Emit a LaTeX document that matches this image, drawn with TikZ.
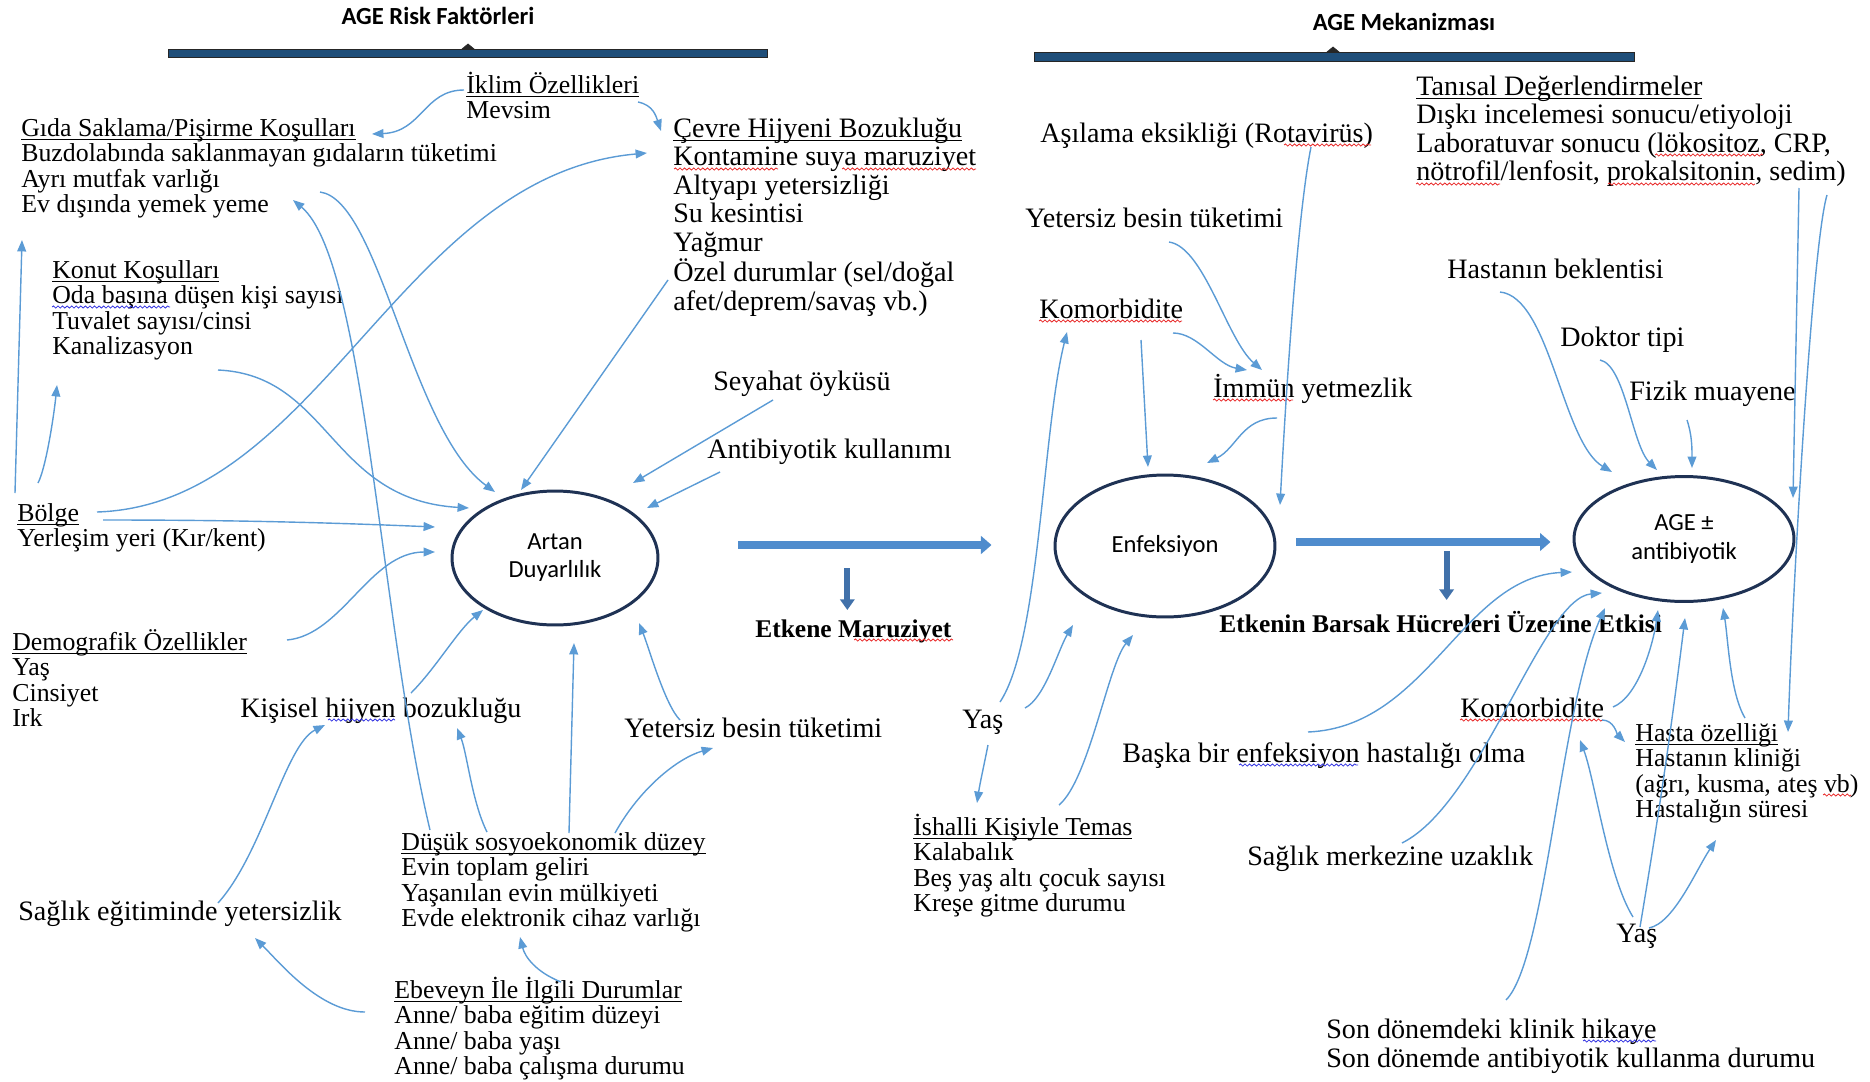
\documentclass[tikz,border=0pt]{standalone}
\usepackage{fontspec}
\setmainfont{Liberation Serif}
\newfontfamily\calib{Carlito}
\usetikzlibrary{arrows.meta,shapes.geometric,calc,decorations.pathmorphing}
\definecolor{LinkBlue}{RGB}{91,155,213}
\definecolor{FlowBlue}{RGB}{79,140,205}
\definecolor{DropBlue}{RGB}{65,113,170}
\definecolor{RingNavy}{RGB}{31,50,84}
\definecolor{BarNavy}{RGB}{31,78,121}
\definecolor{SpellRed}{RGB}{232,40,40}
\definecolor{SpellBlue}{RGB}{50,50,225}
\newcommand{\lnstr}{\rule{0pt}{13pt}}
\newsavebox{\ulbox}
\newcommand{\uln}[1]{\lnstr\sbox{\ulbox}{#1}\rlap{\rule[-2.4pt]{\wd\ulbox}{0.55pt}}\usebox{\ulbox}}

\begin{document}
\begin{tikzpicture}[
  x=0.02cm, y=-0.02cm,
  >={Triangle[length=6.5pt,width=5pt]},
  lbl/.style={anchor=north west, inner sep=0pt, align=left,
    font=\fontsize{14.7}{14.5}\selectfont, execute at begin node=\lnstr},
  big/.style={lbl, font=\fontsize{16}{16.2}\selectfont},
  bold/.style={lbl, font=\fontsize{14.5}{14.5}\selectfont\bfseries},
  title/.style={anchor=base, inner sep=0pt, font=\calib\bfseries\fontsize{14}{16}\selectfont},
  ring/.style={ellipse, draw=RingNavy, line width=1.7pt, align=center,
    font=\calib\fontsize{14}{16}\selectfont, inner sep=0pt},
  link/.style={->, draw=LinkBlue, line width=0.8pt},
  flow/.style={-{Triangle[length=6pt,width=10pt]}, draw=FlowBlue, line width=4.4pt},
  drop/.style={-{Triangle[length=6pt,width=8pt]}, draw=DropBlue, line width=3.4pt},
  wavy/.style={decorate, decoration={snake, amplitude=0.6pt, segment length=2.6pt}, line width=0.45pt},
  spellred/.style={wavy, draw=SpellRed},
  spellblue/.style={wavy, draw=SpellBlue}
]
\useasboundingbox (0,0) rectangle (1870,1082);

% Headings and bars
\node[title] (riskT) at (438,24) {AGE Risk Faktörleri};
\node[title] (mekT) at (1404,30) {AGE Mekanizması};
\filldraw[fill=BarNavy, draw=black!85, line width=0.5pt] (168,49) rectangle (767,57);
\filldraw[fill=black!85, draw=black!85] (462,49) -- (468,44) -- (474,49) -- cycle;
\filldraw[fill=BarNavy, draw=black!85, line width=0.5pt] (1034,52) rectangle (1634,61);
\filldraw[fill=black!85, draw=black!85] (1327,52) -- (1333,47) -- (1339,52) -- cycle;

% Central states
\node[ring, minimum width=4.12cm, minimum height=2.68cm] (artan) at (555,558) {Artan\\Duyarlılık};
\node[ring, minimum width=4.4cm, minimum height=2.84cm] (enf) at (1165,546) {Enfeksiyon};
\node[ring, minimum width=4.4cm, minimum height=2.5cm] (age) at (1684,539) {AGE ±\\antibiyotik};

% Risk factors
\node[lbl] (iklim) at (466,70) {\uln{İklim Özellikleri}\\Mevsim};
\node[lbl] (gida) at (21,113) {\uln{Gıda Saklama/Pişirme Koşulları}\\Buzdolabında saklanmayan gıdaların tüketimi\\Ayrı mutfak varlığı\\Ev dışında yemek yeme};
\node[big] (cevre) at (673,114) {\uln{Çevre Hijyeni Bozukluğu}\\Kontamine suya maruziyet\\Altyapı yetersizliği\\Su kesintisi\\Yağmur\\Özel durumlar (sel/doğal\\afet/deprem/savaş vb.)};
\node[lbl] (konut) at (52,255) {\uln{Konut Koşulları}\\Oda başına düşen kişi sayısı\\Tuvalet sayısı/cinsi\\Kanalizasyon};
\node[lbl] (bolge) at (17,498) {\uln{Bölge}\\Yerleşim yeri (Kır/kent)};
\node[lbl] (demog) at (12,627) {\uln{Demografik Özellikler}\\Yaş\\Cinsiyet\\Irk};
\node[big] (kisisel) at (240,694) {Kişisel hijyen bozukluğu};
\node[big] (sagedu) at (18,897) {Sağlık eğitiminde yetersizlik};
\node[lbl] (dusuk) at (401,827) {\uln{Düşük sosyoekonomik düzey}\\Evin toplam geliri\\Yaşanılan evin mülkiyeti\\Evde elektronik cihaz varlığı};
\node[lbl] (ebeveyn) at (394,975) {\uln{Ebeveyn İle İlgili Durumlar}\\Anne/ baba eğitim düzeyi\\Anne/ baba yaşı\\Anne/ baba çalışma durumu};
\node[big] (yetL) at (624,714) {Yetersiz besin tüketimi};
\node[big] (seyahat) at (713,367) {Seyahat öyküsü};
\node[big] (antib) at (707,435) {Antibiyotik kullanımı};
\node[bold] (etkene) at (755,614) {Etkene Maruziyet};

% Mechanism factors
\node[big] (asilama) at (1040,119) {Aşılama eksikliği (Rotavirüs)};
\node[big] (yetR) at (1025,204) {Yetersiz besin tüketimi};
\node[big] (komorb) at (1039,295) {Komorbidite};
\node[big] (immun) at (1213,374) {İmmün yetmezlik};
\node[big] (tanisal) at (1416,72) {\uln{Tanısal Değerlendirmeler}\\Dışkı incelemesi sonucu/etiyoloji\\Laboratuvar sonucu (lökositoz, CRP,\\nötrofil/lenfosit, prokalsitonin, sedim)};
\node[big] (hastanin) at (1447,255) {Hastanın beklentisi};
\node[big] (doktor) at (1560,323) {Doktor tipi};
\node[big] (fizik) at (1629,377) {Fizik muayene};
\node[bold] (etkenin) at (1219,609) {Etkenin Barsak Hücreleri Üzerine Etkisi};
\node[big] (yasM) at (962,705) {Yaş};
\node[lbl] (ishalli) at (913,812) {\uln{İshalli Kişiyle Temas}\\Kalabalık\\Beş yaş altı çocuk sayısı\\Kreşe gitme durumu};
\node[big] (baska) at (1122,739) {Başka bir enfeksiyon hastalığı olma};
\node[big] (komorbR) at (1460,694) {Komorbidite};
\node[lbl] (hasta) at (1635,718) {\uln{Hasta özelliği}\\Hastanın kliniği\\(ağrı, kusma, ateş vb)\\Hastalığın süresi};
\node[big] (sagmerk) at (1247,842) {Sağlık merkezine uzaklık};
\node[big] (yasR) at (1616,919) {Yaş};
\node[big, font=\fontsize{16}{16.4}\selectfont] (son) at (1326,1015) {\lnstr Son dönemdeki klinik hikaye\\Son dönemde antibiyotik kullanma durumu};

% spell-check marks under words
\draw[spellred] ([shift={(1,55)}]cevre.north west) -- ([shift={(105,55)}]cevre.north west);
\draw[spellred] ([shift={(169,55)}]cevre.north west) -- ([shift={(303,55)}]cevre.north west);
\draw[spellred] ([shift={(99,26)}]etkene.north west) -- ([shift={(198,26)}]etkene.north west);
\draw[spellred] ([shift={(244,26)}]asilama.north west) -- ([shift={(331,26)}]asilama.north west);
\draw[spellred] ([shift={(0,26)}]komorb.north west) -- ([shift={(143,26)}]komorb.north west);
\draw[spellred] ([shift={(0,26)}]immun.north west) -- ([shift={(80,26)}]immun.north west);
\draw[spellred] ([shift={(239,83)}]tanisal.north west) -- ([shift={(347,83)}]tanisal.north west);
\draw[spellred] ([shift={(0,112)}]tanisal.north west) -- ([shift={(84,112)}]tanisal.north west);
\draw[spellred] ([shift={(192,112)}]tanisal.north west) -- ([shift={(339,112)}]tanisal.north west);
\draw[spellred] ([shift={(0,26)}]komorbR.north west) -- ([shift={(143,26)}]komorbR.north west);
\draw[spellred] ([shift={(188,77)}]hasta.north west) -- ([shift={(216,77)}]hasta.north west);
\draw[spellblue] ([shift={(0,52)}]konut.north west) -- ([shift={(118,52)}]konut.north west);
\draw[spellblue] ([shift={(88,26)}]kisisel.north west) -- ([shift={(155,26)}]kisisel.north west);
\draw[spellblue] ([shift={(117,26)}]baska.north west) -- ([shift={(236,26)}]baska.north west);
\draw[spellblue] ([shift={(257,26)}]son.north west) -- ([shift={(330,26)}]son.north west);

% --- main flow ---
\draw[flow] ([shift={(79,-13)}]artan.east) -- ([shift={(-62,-1)}]enf.west);
\draw[drop] ([shift={(-6,-46)}]etkene.north) -- ([shift={(-6,-4)}]etkene.north);
\draw[flow] ([shift={(20,-4)}]enf.east) -- ([shift={(-22,3)}]age.west);
\draw[drop] ([shift={(6,-58)}]etkenin.north) -- ([shift={(6,-9)}]etkenin.north);

% --- risk factor edges ---
\draw[link] ([shift={(-2,20)}]iklim.north west) .. controls +(-40,0) and +(50,-2) .. ([shift={(351,21)}]gida.north west);
\draw[link] ([shift={(172,32)}]iklim.north west) .. controls +(15,3) and +(-5,-15) .. ([shift={(-12,17)}]cevre.north west);
\draw[link] ([shift={(-2,-5)}]bolge.north west) -- ([shift={(1,127)}]gida.north west);
\draw[link] ([shift={(21,-15)}]bolge.north west) .. controls +(8,-15) and +(-3,30) .. ([shift={(5,130)}]konut.north west);
\draw[link] ([shift={(80,14)}]bolge.north west) .. controls +(223,-7) and +(-247,22) .. ([shift={(-26,39)}]cevre.north west);
\draw[link] ([shift={(86,22)}]bolge.north west) .. controls +(120,0) and +(-120,-5) .. ([shift={(-120,-31)}]artan.center);
\draw[link] ([shift={(166,115)}]konut.north west) .. controls +(112,5) and +(-139,-8) .. ([shift={(-86,-50)}]artan.center);
\draw[link] ([shift={(299,79)}]gida.north west) .. controls +(60,8) and +(-85,-62) .. ([shift={(-60,-66)}]artan.center);
\draw[link] ([shift={(-5,166)}]cevre.north west) -- ([shift={(-34,-68)}]artan.center);
\draw[link] ([shift={(29,3)}]dusuk.north west) .. controls +(-50,-210) and +(72,60) .. ([shift={(272,87)}]gida.north west);
\draw[link] ([shift={(86,5)}]dusuk.north west) .. controls +(-15,-30) and +(10,25) .. ([shift={(217,34)}]kisisel.north west);
\draw[link] ([shift={(168,6)}]dusuk.north west) -- ([shift={(19,85)}]artan.center);
\draw[link] ([shift={(214,6)}]dusuk.north west) .. controls +(25,-45) and +(-35,10) .. ([shift={(89,34)}]yetL.north west);
\draw[link] ([shift={(171,-1)}]kisisel.north west) .. controls +(25,-25) and +(-25,20) .. ([shift={(-72,52)}]artan.center);
\draw[link] ([shift={(200,6)}]sagedu.north west) .. controls +(45,-50) and +(-40,20) .. ([shift={(85,31)}]kisisel.north west);
\draw[link] ([shift={(-29,37)}]ebeveyn.north west) .. controls +(-45,0) and +(25,25) .. ([shift={(237,41)}]sagedu.north west);
\draw[link] ([shift={(167,7)}]ebeveyn.north west) .. controls +(-25,-10) and +(5,20) .. ([shift={(119,110)}]dusuk.north west);
\draw[link] ([shift={(275,13)}]demog.north west) .. controls +(55,-5) and +(-65,0) .. ([shift={(-120,-6)}]artan.center);
\draw[link] ([shift={(56,6)}]yetL.north west) .. controls +(-15,-15) and +(10,25) .. ([shift={(84,65)}]artan.center);
\draw[link] ([shift={(60,33)}]seyahat.north west) -- ([shift={(78,-75)}]artan.center);
\draw[link] ([shift={(13,37)}]antib.north west) -- ([shift={(92,-50)}]artan.center);

% --- mechanism edges ---
\draw[link] ([shift={(271,28)}]asilama.north west) .. controls +(-12,60) and +(8,-150) .. ([shift={(115,-41)}]enf.center);
\draw[link] ([shift={(144,38)}]yetR.north west) .. controls +(35,5) and +(-35,-30) .. ([shift={(49,-4)}]immun.north west);
\draw[link] ([shift={(134,38)}]komorb.north west) .. controls +(25,0) and +(-30,-5) .. ([shift={(34,-4)}]immun.north west);
\draw[link] ([shift={(102,45)}]komorb.north west) -- ([shift={(-17,-79)}]enf.center);
\draw[link] ([shift={(64,44)}]immun.north west) .. controls +(-35,0) and +(30,-15) .. ([shift={(42,-83)}]enf.center);
\draw[link] ([shift={(38,-3)}]yasM.north west) .. controls +(40,-60) and +(-25,100) .. ([shift={(28,37)}]komorb.north west);
\draw[link] ([shift={(63,3)}]yasM.north west) .. controls +(20,-10) and +(-15,25) .. ([shift={(-92,79)}]enf.center);
\draw[link] ([shift={(26,40)}]yasM.north west) .. controls +(-5,25) and +(3,-20) .. ([shift={(64,-9)}]ishalli.north west);
\draw[link] ([shift={(146,-7)}]ishalli.north west) .. controls +(30,-25) and +(-25,30) .. ([shift={(-32,89)}]enf.center);

% --- AGE edges ---
\draw[link] ([shift={(186,-7)}]baska.north west) .. controls +(120,-5) and +(-110,5) .. ([shift={(-112,33)}]age.center);
\draw[link] ([shift={(155,1)}]sagmerk.north west) .. controls +(80,-40) and +(-60,5) .. ([shift={(-82,54)}]age.center);
\draw[link] ([shift={(180,-15)}]son.north west) .. controls +(40,-40) and +(-45,100) .. ([shift={(-79,69)}]age.center);
\draw[link] ([shift={(153,13)}]komorbR.north west) .. controls +(25,-10) and +(-5,35) .. ([shift={(-26,71)}]age.center);
\draw[link] ([shift={(142,26)}]komorbR.north west) .. controls +(12,0) and +(-8,-8) .. ([shift={(-10,24)}]hasta.north west);
\draw[link] ([shift={(110,0)}]hasta.north west) .. controls +(-15,-25) and +(5,30) .. ([shift={(39,69)}]age.center);
\draw[link] ([shift={(383,116)}]tanisal.north west) -- ([shift={(109,-41)}]age.center);
\draw[link] ([shift={(411,123)}]tanisal.north west) .. controls +(-15,50) and +(5,-150) .. ([shift={(153,14)}]hasta.north west);
\draw[link] ([shift={(53,37)}]hastanin.north west) .. controls +(50,5) and +(-50,-30) .. ([shift={(-72,-67)}]age.center);
\draw[link] ([shift={(40,37)}]doktor.north west) .. controls +(25,5) and +(-25,-25) .. ([shift={(-27,-69)}]age.center);
\draw[link] ([shift={(58,43)}]fizik.north west) .. controls +(5,15) and +(0,-20) .. ([shift={(8,-71)}]age.center);
\draw[link] ([shift={(17,-2)}]yasR.north west) .. controls +(-25,-40) and +(15,40) .. ([shift={(120,46)}]komorbR.north west);
\draw[link] ([shift={(24,8)}]yasR.north west) .. controls +(20,-120) and +(-15,120) .. ([shift={(1,79)}]age.center);
\draw[link] ([shift={(33,9)}]yasR.north west) .. controls +(25,-5) and +(-20,30) .. ([shift={(81,122)}]hasta.north west);

\end{tikzpicture}
\end{document}
